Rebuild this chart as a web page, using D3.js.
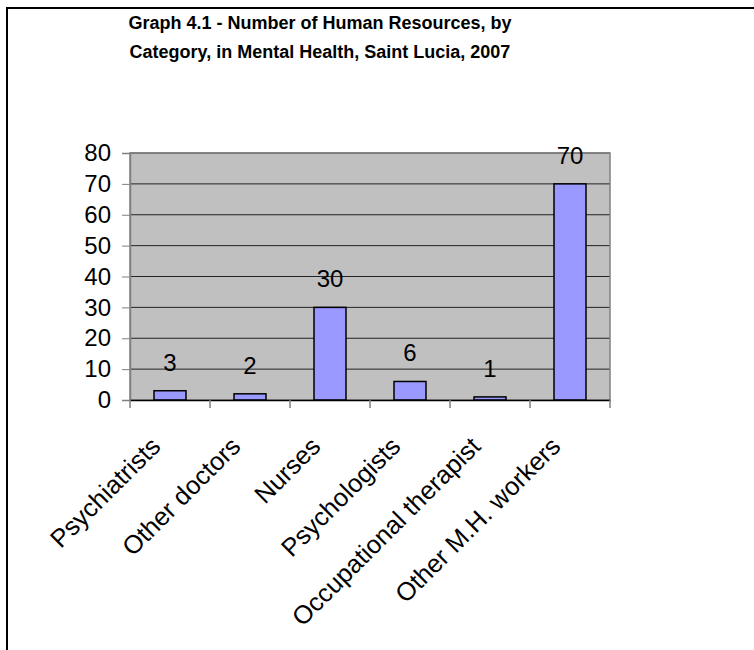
<!DOCTYPE html>
<html><head><meta charset="utf-8">
<script src="https://cdn.jsdelivr.net/npm/d3@7"></script>
<style>body{margin:0;background:#fff}svg{display:block}</style>
</head><body><svg id="c" width="754" height="650"></svg>
<script>
const categories = ["Psychiatrists","Other doctors","Nurses","Psychologists","Occupational therapist","Other M.H. workers"];
const values = [3,2,30,6,1,70];
const yTicks = [0,10,20,30,40,50,60,70,80];
const titleLines = ["Graph 4.1 - Number of Human Resources, by","Category, in Mental Health, Saint Lucia, 2007"];

const svg = d3.select("#c");
const font = "Arial, 'Liberation Sans', sans-serif";
svg.append("rect").attr("x",7).attr("y",8).attr("width",900).attr("height",900)
  .attr("fill","#fff").attr("stroke","#000").attr("stroke-width",2);

const L=130,R=610,T=153,B=400;
const x = d3.scaleBand().domain(categories).range([L,R]);
const y = d3.scaleLinear().domain([0,80]).range([B,T]);

svg.append("rect").attr("x",L).attr("y",T).attr("width",R-L).attr("height",B-T).attr("fill","#C0C0C0");
// gridlines
svg.append("g").selectAll("line").data(yTicks.filter(d=>d>0)).join("line")
  .attr("x1",L).attr("x2",R).attr("y1",d=>y(d)).attr("y2",d=>y(d))
  .attr("stroke","#222").attr("stroke-width",1);
// plot border
svg.append("rect").attr("x",L).attr("y",T).attr("width",R-L).attr("height",B-T)
  .attr("fill","none").attr("stroke","#808080").attr("stroke-width",1.5);

// bars
const bw = x.bandwidth()*0.4;
svg.append("g").selectAll("rect").data(values).join("rect")
  .attr("x",(d,i)=>x(categories[i])+(x.bandwidth()-bw)/2)
  .attr("y",d=>y(d)).attr("width",bw).attr("height",d=>B-y(d))
  .attr("fill","#9999FF").attr("stroke","#000").attr("stroke-width",1.5);

// y axis
const ya = svg.append("g").attr("transform",`translate(${L},0)`)
  .call(d3.axisLeft(y).tickValues(yTicks).tickSize(8).tickPadding(11));
ya.select(".domain").attr("stroke","#808080").attr("stroke-width",1.5);
ya.selectAll(".tick line").attr("stroke","#808080");
ya.selectAll("text").attr("font-family",font).attr("font-size",24).attr("fill","#000");

// x axis
const xa = svg.append("g").attr("transform",`translate(0,${B})`)
  .call(d3.axisBottom(x).tickSize(0).tickFormat(""));
xa.select(".domain").attr("stroke","#000").attr("stroke-width",1.5);
xa.selectAll(".tick").remove();
svg.append("g").selectAll("line").data(d3.range(categories.length+1)).join("line")
  .attr("x1",i=>L+i*x.bandwidth()).attr("x2",i=>L+i*x.bandwidth())
  .attr("y1",B).attr("y2",B+8).attr("stroke","#808080").attr("stroke-width",1.5);

// category labels
svg.append("g").selectAll("text").data(categories).join("text")
  .attr("transform",d=>`translate(${x(d)+x.bandwidth()/2-8},${448}) rotate(-45)`)
  .attr("text-anchor","end").attr("font-family",font).attr("font-size",25.5).text(d=>d);

// value labels
svg.append("g").selectAll("text").data(values).join("text")
  .attr("x",(d,i)=>x(categories[i])+x.bandwidth()/2).attr("y",d=>y(d)-20)
  .attr("text-anchor","middle").attr("font-family",font).attr("font-size",24).text(d=>d);

// title
svg.append("g").selectAll("text").data(titleLines).join("text")
  .attr("x",320).attr("y",(d,i)=>29+i*29).attr("text-anchor","middle")
  .attr("font-family",font).attr("font-weight","bold").attr("font-size",18).text(d=>d);
</script></body></html>
